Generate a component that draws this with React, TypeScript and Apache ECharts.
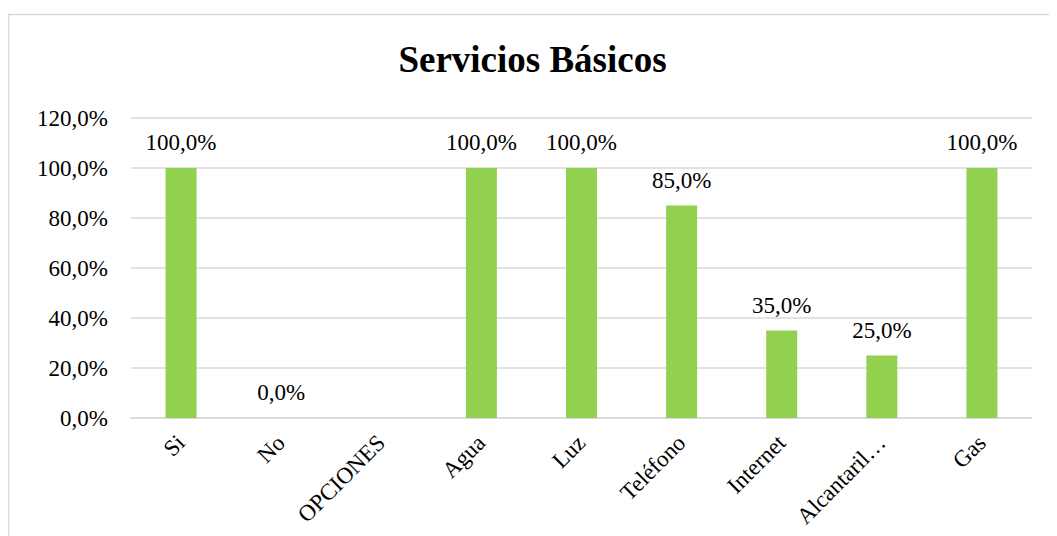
import React, { useEffect, useRef } from "react";
import * as echarts from "echarts";

const categories = ["Si", "No", "OPCIONES", "Agua", "Luz", "Teléfono", "Internet", "Alcantaril…", "Gas"];
const values: (number | null)[] = [100, 0, null, 100, 100, 85, 35, 25, 100];
const yTicks = { min: 0, max: 120, interval: 20 };
const titleText = "Servicios Básicos";

const FONT = "'Times New Roman', 'Liberation Serif', serif";
const fmt = (v: number) => v.toFixed(1).replace(".", ",") + "%";

export default function App() {
  const ref = useRef<HTMLDivElement>(null);
  useEffect(() => {
    if (!ref.current) return;
    const chart = echarts.init(ref.current, null, { renderer: "svg" });
    chart.setOption({
      animation: false,
      title: {
        text: titleText,
        left: "center",
        top: 28,
        textStyle: { fontFamily: FONT, fontSize: 37, fontWeight: "bold", color: "#000" },
      },
      graphic: [
        {
          type: "rect",
          shape: { x: 0.5, y: 6.5, width: 1200, height: 700 },
          style: { fill: "none", stroke: "#d9d9d9", lineWidth: 1.5 },
          silent: true,
        },
      ],
      grid: { left: 123, right: 25, top: 110, bottom: 118 },
      xAxis: {
        type: "category",
        data: categories,
        axisLine: { show: true, lineStyle: { color: "#d9d9d9", width: 1.5 } },
        axisTick: { show: false },
        axisLabel: {
          rotate: 45,
          margin: 21,
          interval: 0,
          fontFamily: FONT,
          fontSize: 23,
          color: "#000",
        },
      },
      yAxis: {
        type: "value",
        min: yTicks.min,
        max: yTicks.max,
        interval: yTicks.interval,
        axisLine: { show: false },
        axisTick: { show: false },
        splitLine: { lineStyle: { color: "#d9d9d9", width: 1.5 } },
        axisLabel: {
          margin: 23,
          fontFamily: FONT,
          fontSize: 23,
          color: "#000",
          formatter: (v: number) => fmt(v),
        },
      },
      series: [
        {
          type: "bar",
          data: values,
          barWidth: 31,
          itemStyle: { color: "#92d050" },
          label: {
            show: true,
            position: "top",
            distance: 14,
            fontFamily: FONT,
            fontSize: 23,
            color: "#000",
            formatter: (p: any) => (p.value == null ? "" : fmt(p.value)),
          },
        },
      ],
    });
    return () => chart.dispose();
  }, []);
  return <div ref={ref} style={{ width: 1049, height: 528 }} />;
}
